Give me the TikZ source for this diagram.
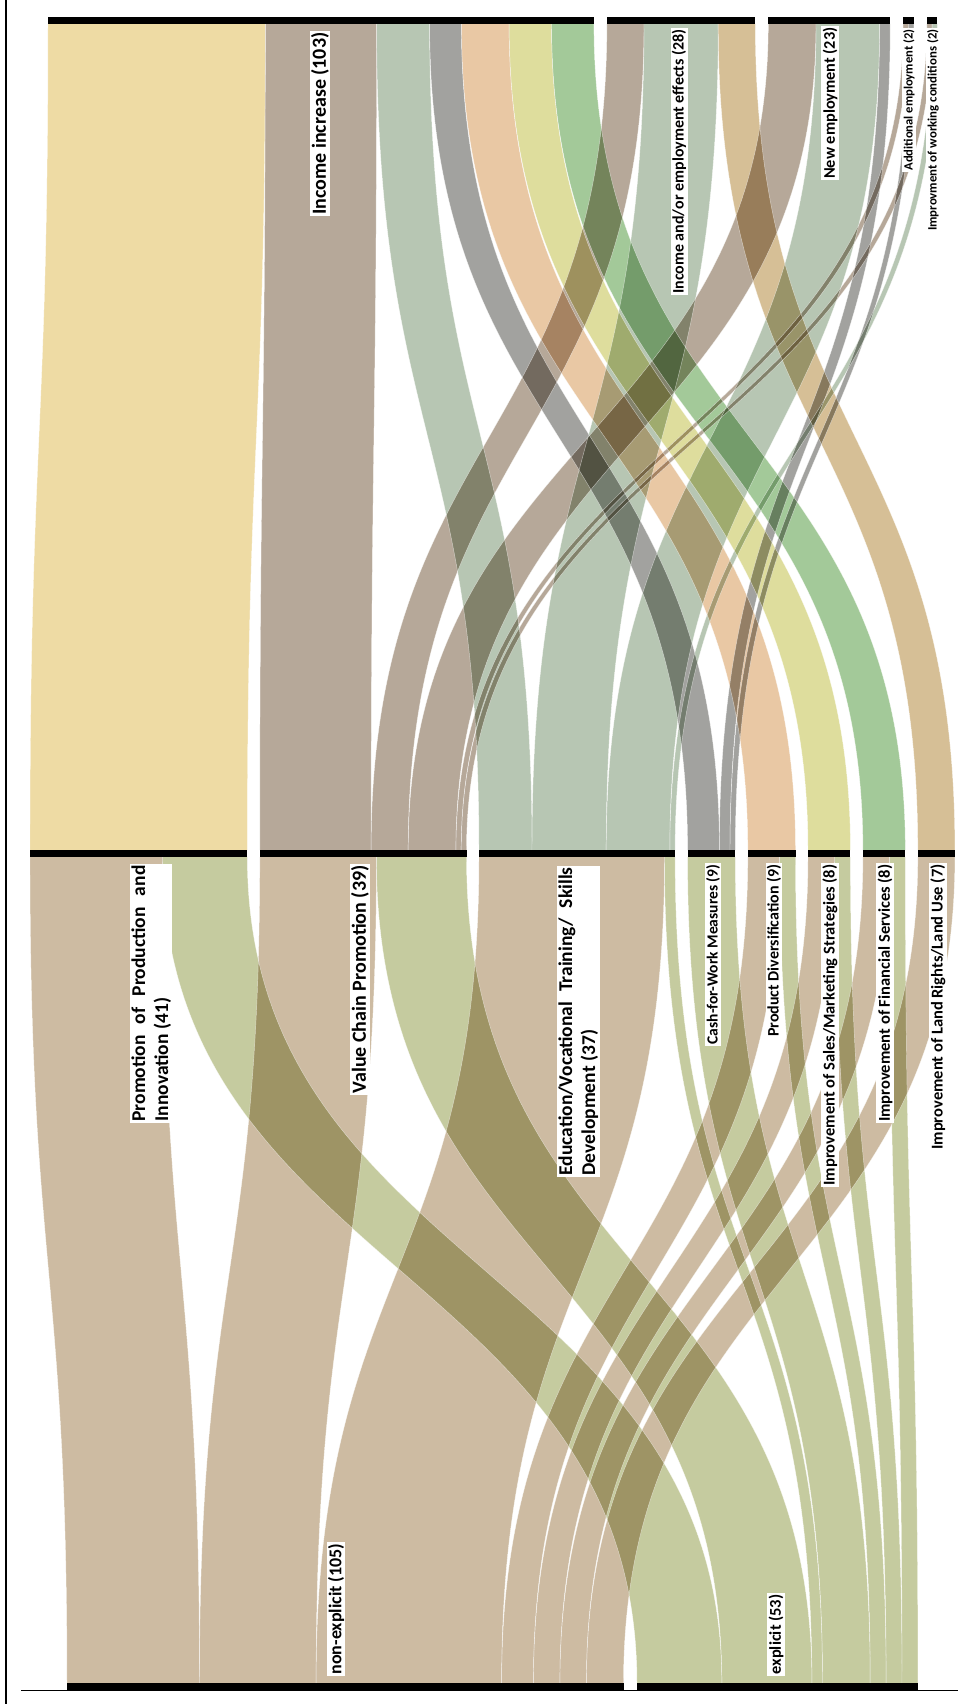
\documentclass[tikz,border=0pt]{standalone}
\usepackage{fontspec}
\setmainfont{Carlito}

% running positions of each node side
\newcommand{\setcur}[2]{\expandafter\xdef\csname skcur#1\endcsname{#2}}
\newcommand{\getcur}[1]{\csname skcur#1\endcsname}
\gdef\bandedges{}
% \band{from-side}{to-side}{value}{colour}{y from}{y to}
\newcommand{\band}[6]{%
  \pgfmathsetmacro\bxa{\getcur{#1}}%
  \pgfmathsetmacro\bxb{\bxa+#3*5.3}%
  \pgfmathsetmacro\bxc{\getcur{#2}}%
  \pgfmathsetmacro\bxd{\bxc+#3*5.3}%
  \pgfmathsetmacro\bym{(#5+#6)/2}%
  \fill[#4] (\bxa,#5) .. controls (\bxa,\bym) and (\bxc,\bym) .. (\bxc,#6) -- (\bxd,#6) .. controls (\bxd,\bym) and (\bxb,\bym) .. (\bxb,#5) -- cycle;%
  \xdef\bandedges{\unexpanded\expandafter{\bandedges}%
    \noexpand\draw[bandline] (\bxa,#5) .. controls (\bxa,\bym) and (\bxc,\bym) .. (\bxc,#6);
    \noexpand\draw[bandline] (\bxb,#5) .. controls (\bxb,\bym) and (\bxd,\bym) .. (\bxd,#6);}%
  \setcur{#1}{\bxb}\setcur{#2}{\bxd}%
}

\definecolor{cPPI}{HTML}{EEDBA4}
\definecolor{cVCP}{HTML}{B6A899}
\definecolor{cEVT}{HTML}{B7C6B3}
\definecolor{cCFW}{HTML}{A2A29F}
\definecolor{cPD}{HTML}{E9C8A4}
\definecolor{cISM}{HTML}{DEDD9D}
\definecolor{cIFS}{HTML}{A3C999}
\definecolor{cILR}{HTML}{D6BF96}
\definecolor{cNX}{HTML}{CDBBA2}
\definecolor{cEX}{HTML}{C5CB9F}
\definecolor{baseline}{HTML}{D3DAE6}

\tikzset{
  lab/.style={fill=white, inner sep=1.3pt, rotate=90, text=black,
    font=\bfseries\fontsize{#1}{23}\selectfont},
  bar/.style={fill=black},
  bandline/.style={white, line width=0.45pt, opacity=0.55},
}

\begin{document}
\begin{tikzpicture}[x=1pt,y=-1pt]
\useasboundingbox (0,0) rectangle (958,1704);
\fill[white] (0,0) rectangle (958,1704);

% start positions of every node side
\setcur{uPPI}{30}\setcur{lPPI}{30}
\setcur{uVCP}{259.8}\setcur{lVCP}{259.8}
\setcur{uEVT}{479}\setcur{lEVT}{479}
\setcur{uCFW}{687.6}\setcur{lCFW}{687.6}
\setcur{uPD}{747.8}\setcur{lPD}{747.8}
\setcur{uISM}{808}\setcur{lISM}{808}
\setcur{uIFS}{862.9}\setcur{lIFS}{862.9}
\setcur{uILR}{917.8}\setcur{lILR}{917.8}
\setcur{tII}{48}\setcur{tIE}{606.9}\setcur{tNE}{768.3}\setcur{tAE}{903.2}\setcur{tIW}{926.8}
\setcur{bNX}{67}\setcur{bEX}{637}

\begin{scope}[blend group=multiply]
  % interventions -> outcomes
  \band{uPPI}{tII}{41}{cPPI}{850}{24}
  \band{uVCP}{tII}{21}{cVCP}{850}{24}
  \band{uEVT}{tII}{10}{cEVT}{850}{24}
  \band{uCFW}{tII}{6}{cCFW}{850}{24}
  \band{uPD}{tII}{9}{cPD}{850}{24}
  \band{uISM}{tII}{8}{cISM}{850}{24}
  \band{uIFS}{tII}{8}{cIFS}{850}{24}
  \band{uVCP}{tIE}{7}{cVCP}{850}{24}
  \band{uEVT}{tIE}{14}{cEVT}{850}{24}
  \band{uILR}{tIE}{7}{cILR}{850}{24}
  \band{uVCP}{tNE}{9}{cVCP}{850}{24}
  \band{uEVT}{tNE}{12}{cEVT}{850}{24}
  \band{uCFW}{tNE}{2}{cCFW}{850}{24}
  \band{uVCP}{tAE}{1}{cVCP}{850}{24}
  \band{uCFW}{tAE}{1}{cCFW}{850}{24}
  \band{uVCP}{tIW}{1}{cVCP}{850}{24}
  \band{uEVT}{tIW}{1}{cEVT}{850}{24}
  % interventions -> explicitness
  \band{lPPI}{bNX}{25}{cNX}{857}{1683}
  \band{lVCP}{bNX}{22}{cNX}{857}{1683}
  \band{lEVT}{bNX}{35}{cNX}{857}{1683}
  \band{lPD}{bNX}{6}{cNX}{857}{1683}
  \band{lISM}{bNX}{5}{cNX}{857}{1683}
  \band{lIFS}{bNX}{5}{cNX}{857}{1683}
  \band{lILR}{bNX}{7}{cNX}{857}{1683}
  \band{lPPI}{bEX}{16}{cEX}{857}{1683}
  \band{lVCP}{bEX}{17}{cEX}{857}{1683}
  \band{lEVT}{bEX}{2}{cEX}{857}{1683}
  \band{lCFW}{bEX}{9}{cEX}{857}{1683}
  \band{lPD}{bEX}{3}{cEX}{857}{1683}
  \band{lISM}{bEX}{3}{cEX}{857}{1683}
  \band{lIFS}{bEX}{3}{cEX}{857}{1683}
\end{scope}

% hairline edges of the bands
\bandedges

% node bars
\foreach \a/\n in {48/103, 606.9/28, 768.3/23, 903.2/2, 926.8/2}
  \fill[bar] (\a,17) rectangle ++(\n*5.3,7);
\foreach \a/\n in {30/41, 259.8/39, 479/37, 687.6/9, 747.8/9, 808/8, 862.9/8, 917.8/7}
  \fill[bar] (\a,850) rectangle ++(\n*5.3,7);
\foreach \a/\n in {67/105, 637/53}
  \fill[bar] (\a,1683) rectangle ++(\n*5.3,7);

% frame lines
\draw[baseline, line width=1pt] (21,1690.5) -- (958,1690.5);
\draw[black, line width=2.3pt] (6.2,0) -- (6.2,1704);

% outcome labels
\node[lab=20, anchor=east] (lII) at (320,31) {Income increase (103)};
\node[lab=16, anchor=east] (lIE) at (679,28) {Income and/or employment effects (28)};
\node[lab=16.3, anchor=east] (lNE) at (830,26) {New employment (23)};
\node[lab=12.6, anchor=east] (lAE) at (909,28) {Additional employment (2)};
\node[lab=12.8, anchor=east] (lIW) at (933,28) {Improvment of working conditions (2)};

% intervention labels
\node[lab=19.5, anchor=north east, align=left] (lPPI) at (130,864)
  {\makebox[256pt][s]{Promotion of Production and}\\Innovation (41)};
\node[lab=20, anchor=east] (lVCP) at (360,864) {Value Chain Promotion (39)};
\node[lab=19.5, anchor=north east, align=left] (lEVT) at (557,866)
  {\makebox[308pt][s]{Education/Vocational Training/ Skills}\\Development (37)};
\node[lab=15.5, anchor=east] (lCFW) at (713,863) {Cash-for-Work Measures (9)};
\node[lab=16, anchor=east] (lPD) at (774,863) {Product Diversification (9)};
\node[lab=16.5, anchor=east] (lISM) at (830,863) {Improvement of Sales/Marketing Strategies (8)};
\node[lab=16.5, anchor=east] (lIFS) at (885,863) {Improvement of Financial Services (8)};
\node[lab=16.5, anchor=east] (lILR) at (938,863) {Improvement of Land Rights/Land Use (7)};

% explicitness labels
\node[lab=18, anchor=west] (lNX) at (336,1676) {non-explicit (105)};
\node[lab=16.5, anchor=west] (lEX) at (776,1676) {explicit (53)};
\end{tikzpicture}
\end{document}
